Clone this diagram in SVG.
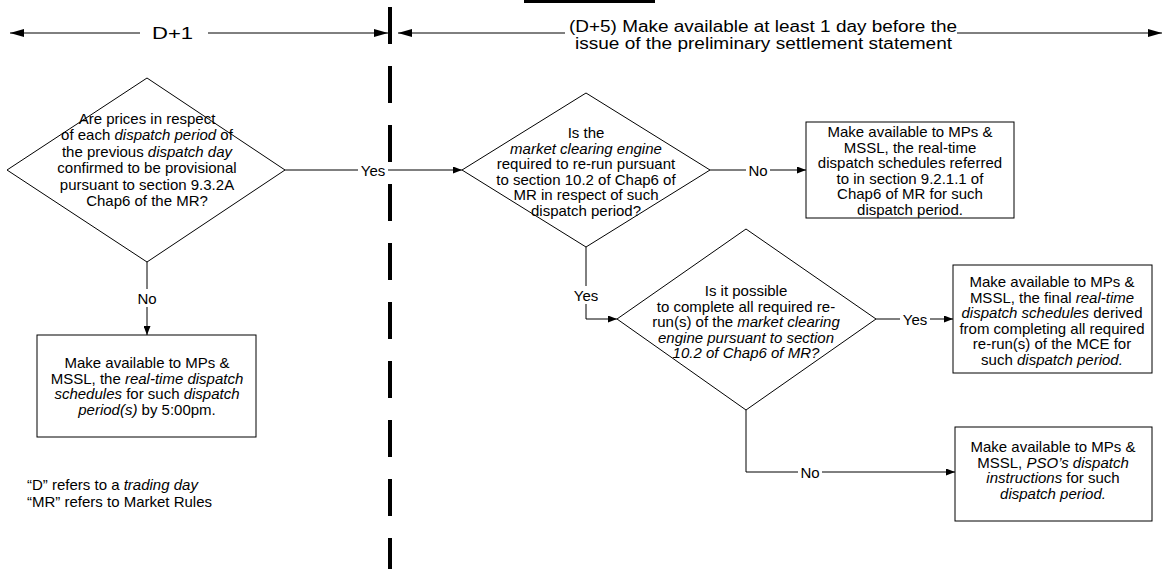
<svg xmlns="http://www.w3.org/2000/svg" width="1165" height="569" viewBox="0 0 1165 569">
<style>
.t{font-family:"Liberation Sans",Arial,sans-serif;font-size:15px;fill:#000;text-anchor:middle}
.l{text-anchor:start}
.i{font-style:italic}
.h{font-family:"Liberation Sans",Arial,sans-serif;font-size:16px;fill:#000}
.shape{fill:#fff;stroke:#000;stroke-width:1}
.conn{fill:none;stroke:#000;stroke-width:1}
.bg{fill:#fff}
</style>
<defs>
<marker id="a" markerUnits="userSpaceOnUse" markerWidth="9" markerHeight="7" refX="9" refY="3.5" orient="auto"><path d="M0,0 L9,3.5 L0,7 z" fill="#000"/></marker>
<marker id="b" markerUnits="userSpaceOnUse" markerWidth="14" markerHeight="8" refX="14" refY="4" orient="auto"><path d="M0,0 L14,4 L0,8 z" fill="#000"/></marker>
</defs>
<rect width="1165" height="569" fill="#fff"/>
<rect x="524" y="0" width="131" height="3" fill="#000"/>
<g id="timeline">
<line x1="390" y1="7" x2="390" y2="569" stroke="#000" stroke-width="4" stroke-dasharray="37 22"/>
<line class="conn" x1="140" y1="33" x2="10" y2="33" marker-end="url(#b)"/>
<line class="conn" x1="208" y1="33" x2="388" y2="33" marker-end="url(#b)"/>
<text class="h" x="152" y="39" textLength="41" lengthAdjust="spacingAndGlyphs">D+1</text>
<line class="conn" x1="565" y1="33" x2="398" y2="33" marker-end="url(#b)"/>
<line class="conn" x1="957" y1="33" x2="1162" y2="33" marker-end="url(#b)"/>
<text class="h" x="569" y="32" textLength="388" lengthAdjust="spacingAndGlyphs">(D+5) Make available at least 1 day before the</text>
<text class="h" x="575" y="49" textLength="377" lengthAdjust="spacingAndGlyphs">issue of the preliminary settlement statement</text>
</g>
<g id="connectors">
<line class="conn" x1="285" y1="170" x2="462" y2="170" marker-end="url(#a)"/>
<rect class="bg" x="358" y="161" width="30" height="18"/>
<text class="t" x="373" y="175.5">Yes</text>
<line class="conn" x1="710" y1="170" x2="806" y2="170" marker-end="url(#a)"/>
<rect class="bg" x="746" y="161" width="24" height="18"/>
<text class="t" x="758" y="175.5">No</text>
<polyline class="conn" points="586,247 586,319 617,319" marker-end="url(#a)"/>
<rect class="bg" x="571" y="286" width="30" height="18"/>
<text class="t" x="586" y="300.5">Yes</text>
<line class="conn" x1="876" y1="319" x2="953" y2="319" marker-end="url(#a)"/>
<rect class="bg" x="900" y="310" width="30" height="18"/>
<text class="t" x="915" y="324.5">Yes</text>
<polyline class="conn" points="746,410 746,472 955,472" marker-end="url(#a)"/>
<rect class="bg" x="798" y="463" width="24" height="18"/>
<text class="t" x="810" y="477.5">No</text>
<line class="conn" x1="147" y1="262" x2="147" y2="335" marker-end="url(#a)"/>
<rect class="bg" x="135" y="289" width="24" height="18"/>
<text class="t" x="147" y="303.5">No</text>
</g>
<g id="d1">
<polygon class="shape" points="147,78 285,170 147,262 7,170"/>
<text class="t" x="147" y="123.5">Are prices in respect</text>
<text class="t" x="147" y="140">of each <tspan class="i">dispatch period</tspan> of</text>
<text class="t" x="147" y="156.5">the previous <tspan class="i">dispatch day</tspan></text>
<text class="t" x="147" y="173">confirmed to be provisional</text>
<text class="t" x="147" y="189.5">pursuant to section 9.3.2A</text>
<text class="t" x="147" y="206">Chap6 of the MR?</text>
</g>
<g id="b4">
<rect class="shape" x="37" y="335" width="219" height="102"/>
<text class="t" x="147" y="368">Make available to MPs &amp;</text>
<text class="t" x="147" y="383.5">MSSL, the <tspan class="i">real-time dispatch</tspan></text>
<text class="t" x="147" y="399"><tspan class="i">schedules</tspan> for such <tspan class="i">dispatch</tspan></text>
<text class="t" x="147" y="414.5"><tspan class="i">period(s)</tspan> by 5:00pm.</text>
</g>
<g id="d2">
<polygon class="shape" points="586,93 710,170 586,247 462,170"/>
<text class="t" x="586" y="138">Is the</text>
<text class="t i" x="586" y="153.5">market clearing engine</text>
<text class="t" x="586" y="169">required to re-run pursuant</text>
<text class="t" x="586" y="184.5">to section 10.2 of Chap6 of</text>
<text class="t" x="586" y="200">MR in respect of such</text>
<text class="t" x="586" y="215.5">dispatch period?</text>
</g>
<g id="b1">
<rect class="shape" x="806" y="122" width="208" height="96"/>
<text class="t" x="910" y="137">Make available to MPs &amp;</text>
<text class="t" x="910" y="152.5">MSSL, the real-time</text>
<text class="t" x="910" y="168">dispatch schedules referred</text>
<text class="t" x="910" y="183.5">to in section 9.2.1.1 of</text>
<text class="t" x="910" y="199">Chap6 of MR for such</text>
<text class="t" x="910" y="214.5">dispatch period.</text>
</g>
<g id="d3">
<polygon class="shape" points="746,229 876,319 746,410 617,319"/>
<text class="t" x="746" y="296">Is it possible</text>
<text class="t" x="746" y="311.5">to complete all required re-</text>
<text class="t" x="746" y="327">run(s) of the <tspan class="i">market clearing</tspan></text>
<text class="t i" x="746" y="342.5">engine pursuant to section</text>
<text class="t i" x="746" y="358">10.2 of Chap6 of MR?</text>
</g>
<g id="b2">
<rect class="shape" x="953" y="265" width="199" height="108"/>
<text class="t" x="1052" y="287">Make available to MPs &amp;</text>
<text class="t" x="1052" y="302.5">MSSL, the final <tspan class="i">real-time</tspan></text>
<text class="t" x="1052" y="318"><tspan class="i">dispatch schedules</tspan> derived</text>
<text class="t" x="1052" y="333.5">from completing all required</text>
<text class="t" x="1052" y="349">re-run(s) of the MCE for</text>
<text class="t" x="1052" y="364.5">such <tspan class="i">dispatch period.</tspan></text>
</g>
<g id="b3">
<rect class="shape" x="955" y="427" width="197" height="94"/>
<text class="t" x="1053" y="452">Make available to MPs &amp;</text>
<text class="t" x="1053" y="467.5">MSSL, <tspan class="i">PSO’s dispatch</tspan></text>
<text class="t" x="1053" y="483"><tspan class="i">instructions</tspan> for such</text>
<text class="t" x="1053" y="498.5"><tspan class="i">dispatch period.</tspan></text>
</g>
<g id="notes">
<text class="t l" x="27" y="490">“D” refers to a <tspan class="i">trading day</tspan></text>
<text class="t l" x="27" y="506.5">“MR” refers to Market Rules</text>
</g>
</svg>
